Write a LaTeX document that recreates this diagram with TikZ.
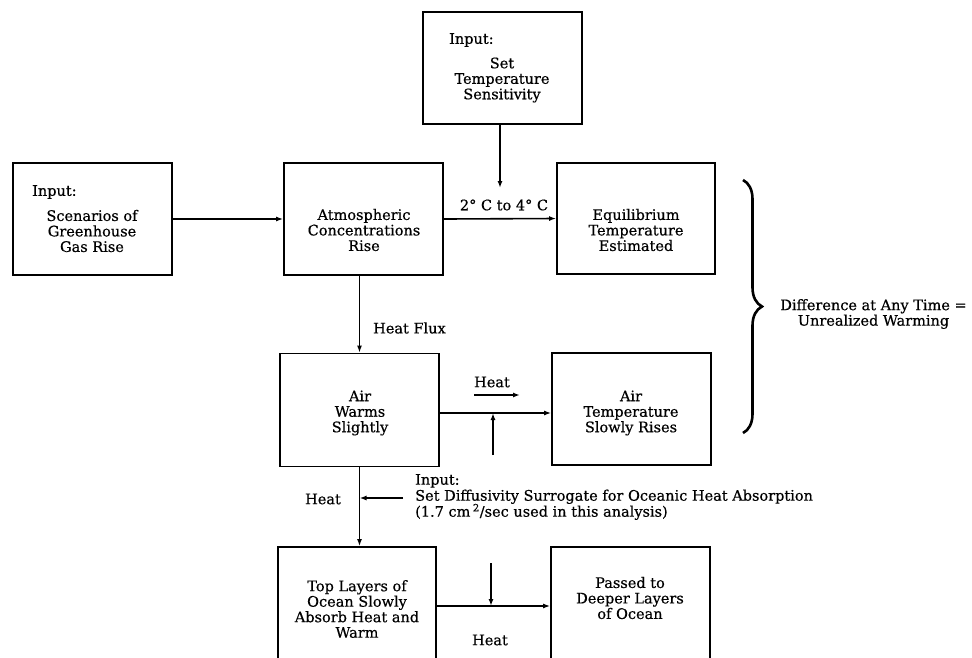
\documentclass[tikz,border=0pt]{standalone}
\usepackage{fontspec}
\newfontfamily\lblfont{DejaVu Serif}[FakeBold=0.5]
\usetikzlibrary{arrows.meta,decorations.pathreplacing}
\begin{document}
\begin{tikzpicture}[x=1pt,y=-1pt,
  every node/.style={font=\lblfont\fontsize{14.5}{15.5}\selectfont, inner sep=0pt},
  box/.style={draw, line width=1.8pt, minimum width=159pt, minimum height=112pt},
  txt/.style={align=center},
  arr/.style={line width=1.6pt, -{Latex[length=7pt,width=5pt]}}]
\useasboundingbox (0,0) rectangle (972,657);

% boxes
\node[box] (sens) at (502.5,68) {};
\node[box] (scen) at (92.5,219) {};
\node[box] (atm) at (363.5,219) {};
\node[box, minimum width=158pt, minimum height=111pt] (equil) at (636,218.5) {};
\node[box, minimum height=113pt] (airw) at (359.5,410) {};
\node[box] (airt) at (631.5,409) {};
\node[box, minimum width=158pt, minimum height=113pt] (topl) at (357,603.5) {};
\node[box, minimum height=113pt] (pass) at (630.5,603.5) {};

% box texts
\node[anchor=west] (sensin) at (449,40) {Input:};
\node[txt] (senstx) at (502,80) {Set\\Temperature\\Sensitivity};
\node[anchor=west] (scenin) at (32,192) {Input:};
\node[txt] (scentx) at (92,231) {Scenarios of\\Greenhouse\\Gas Rise};
\node[txt] (atmtx) at (364,230) {Atmospheric\\Concentrations\\Rise};
\node[txt] (equiltx) at (636,230) {Equilibrium\\Temperature\\Estimated};
\node[txt] (airwtx) at (360,413) {Air\\Warms\\Slightly};
\node[txt] (airttx) at (631,413) {Air\\Temperature\\Slowly Rises};
\node[txt] (topltx) at (357,609) {Top Layers of\\Ocean Slowly\\Absorb Heat and\\Warm};
\node[txt] (passtx) at (630,598) {Passed to\\Deeper Layers\\of Ocean};

% connector labels
\node (deg) at (504,205) {2° C to 4° C};
\node[anchor=west] (flux) at (373,328) {Heat Flux};
\node (heatup) at (492,382) {Heat};
\node (heatleft) at (323,499) {Heat};
\node (heatlow) at (490,640) {Heat};
\node[anchor=west, align=left, font=\lblfont\fontsize{14.5}{16}\selectfont] (diff) at (415,497)
  {Input:\\Set Diffusivity Surrogate for Oceanic Heat Absorption\\(1.7 cm\,\textsuperscript{2}/sec used in this analysis)};
\node[txt] (unreal) at (873.5,314) {Difference at Any Time =\\Unrealized Warming};

% free ends of connectors
\coordinate (sensend) at (500,188);
\coordinate (hj) at (493,413);
\coordinate (hjb) at (493,455);
\coordinate (ha1) at (474,395);
\coordinate (ha2) at (520,395);
\coordinate (dstart) at (403,498);
\coordinate (oj) at (491,606);
\coordinate (ojt) at (491,563);
\coordinate (bt) at (743,180);
\coordinate (bb) at (743,433);

% connectors
\draw[arr] (scen.east) -- (atm.west);
\draw[arr] (atm.east) -- (equil.west);
\draw[arr] (sens.south -| sensend) -- (sensend);
\draw[arr] (airw.north |- atm.south) -- (airw.north);
\draw[arr] (airw.east |- hj) -- (airt.west |- hj);
\draw[arr] (hjb) -- (hj);
\draw[arr] (ha1) -- (ha2);
\draw[arr] (airw.south) -- (airw.south |- topl.north);
\draw[arr] (dstart) -- (dstart -| airw.south);
\draw[arr] (topl.east |- oj) -- (pass.west |- oj);
\draw[arr] (ojt) -- (oj);

% brace grouping the two temperatures
\draw[line width=2.6pt, decorate, decoration={brace, amplitude=19pt}] (bt) -- (bb);
\end{tikzpicture}
\end{document}
